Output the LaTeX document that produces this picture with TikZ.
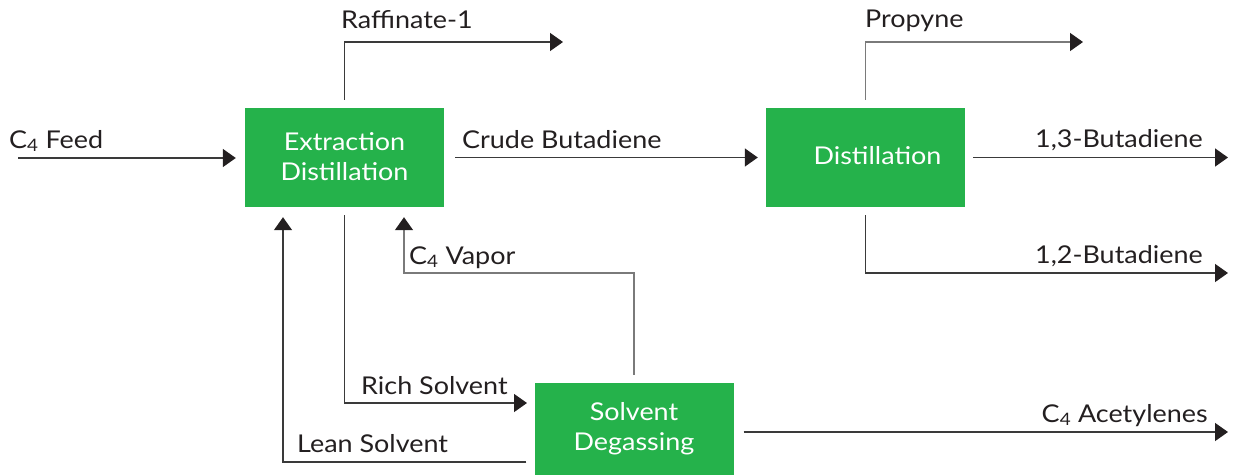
\documentclass[tikz,border=0pt]{standalone}
\usepackage{fontspec}
\setmainfont{Lato}[FakeStretch=1.1]
\usetikzlibrary{arrows.meta}
\definecolor{procgreen}{HTML}{25B24B}
\definecolor{ink}{HTML}{231F20}
\definecolor{pipe}{HTML}{3A3A3A}
\definecolor{pipelight}{HTML}{7A7A7A}
\begin{document}
\begin{tikzpicture}[x=1pt,y=-1pt,
  unit/.style={fill=procgreen, text=white, minimum width=199pt, minimum height=99pt,
    align=center, inner sep=0pt, font=\fontsize{24.5}{30}\selectfont},
  lbl/.style={text=ink, inner sep=0pt, font=\fontsize{24.5}{28}\selectfont},
  flow/.style={draw=pipe, line width=1.5pt, -{Triangle[length=13pt,width=18pt,color=ink]}},
  lightflow/.style={flow, draw=pipelight}]
\useasboundingbox (0,0) rectangle (1236,475);

% process units
\node[unit] (ext) at (344.5,157.5) {\raisebox{2pt}{Extraction}\\\raisebox{2pt}{Distillation}};
\node[unit] (dist) at (865.5,157.5) {\hspace*{24pt}\raisebox{5pt}{Distillation}};
\node[unit, minimum height=92pt] (solv) at (634,429) {Solvent\\Degassing};

% free ends of the streams
\coordinate (feedin) at (18,158);
\coordinate (raf) at (563,42);
\coordinate (prop) at (1083,42);
\coordinate (b13) at (1228,157.5);
\coordinate (b12) at (1228,273);
\coordinate (rich) at (527,403);
\coordinate (leany) at (0,462);
\coordinate (vapy) at (0,273);
\coordinate (acet) at (1228,432);

% streams
\draw[flow, shorten >=9pt] (feedin) -- (feedin -| ext.west);
\draw[flow, shorten <=11pt, shorten >=8pt] (ext.east) -- (dist.west);
\draw[flow, shorten <=8pt] (ext.north) |- (raf);
\draw[lightflow, shorten <=8pt] (dist.north) |- (prop);
\draw[flow, shorten <=8pt] (dist.east) -- (b13);
\draw[flow, shorten <=8pt] (dist.south) |- (b12);
\draw[flow, shorten <=8pt] (ext.south) |- (rich);
\draw[flow, shorten <=8pt, shorten >=10pt] (solv.west |- leany) -| ([xshift=-61.5pt]ext.south);
\draw[lightflow, shorten <=8pt, shorten >=10pt] (solv.north) -- (solv.north |- vapy) -| ([xshift=59.5pt]ext.south);
\draw[flow, shorten <=10pt] (solv.east |- acet) -- (acet);

% stream labels
\node[lbl, anchor=base west] (lfeed) at (9,148) {C\textsubscript{4} Feed};
\node[lbl, anchor=base west] (lcrude) at (462,148) {Crude Butadiene};
\node[lbl, anchor=base west] (lraf) at (341,28) {Raffinate-1};
\node[lbl, anchor=base west] (lprop) at (865,27) {Propyne};
\node[lbl, anchor=base east] (l13) at (1203,147) {1,3-Butadiene};
\node[lbl, anchor=base east] (l12) at (1203,263) {1,2-Butadiene};
\node[lbl, anchor=base west] (lvap) at (409,264) {C\textsubscript{4} Vapor};
\node[lbl, anchor=base west] (lrich) at (361,394) {Rich Solvent};
\node[lbl, anchor=base west] (llean) at (297,452) {Lean Solvent};
\node[lbl, anchor=base east] (lacet) at (1208,422) {C\textsubscript{4} Acetylenes};
\end{tikzpicture}
\end{document}
